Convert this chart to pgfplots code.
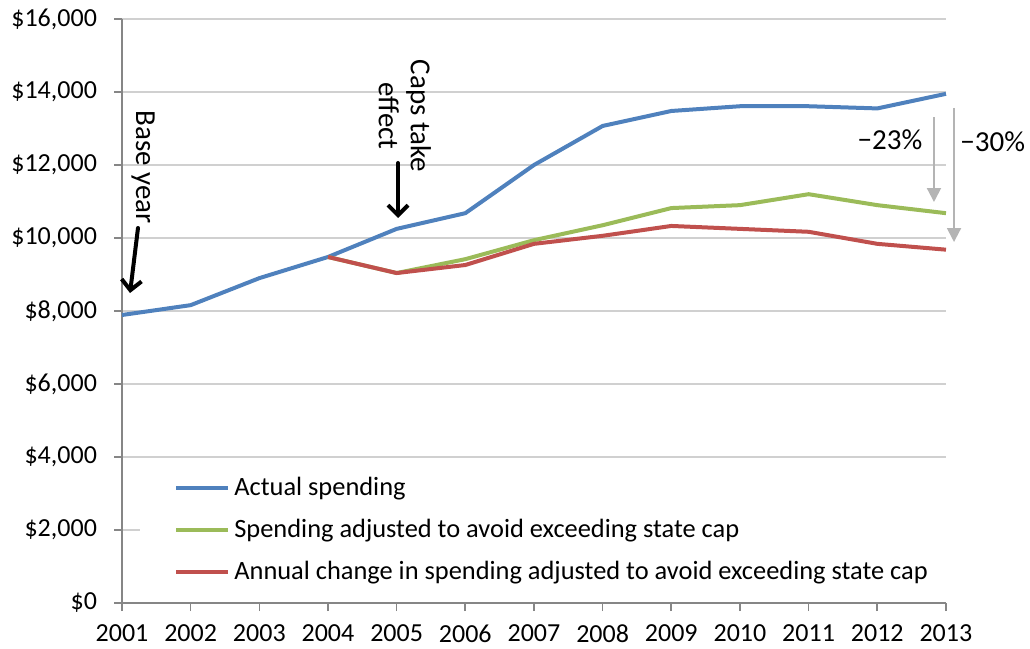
\documentclass[border=0pt]{standalone}
\usepackage{fontspec}
\setmainfont{Carlito}
\usepackage{pgfplots}
\pgfplotsset{compat=1.18}
\usetikzlibrary{arrows.meta}
\definecolor{sblue}{HTML}{4F81BD}
\definecolor{sgreen}{HTML}{9BBB59}
\definecolor{sred}{HTML}{C0504D}
\definecolor{gridgray}{HTML}{D0D0D0}
\definecolor{axgray}{HTML}{868686}
\definecolor{arrgray}{HTML}{B4B4B4}
\begin{document}
\begin{tikzpicture}
\path[use as bounding box] (-61pt,-23pt) rectangle (454pt,301.5pt);
\begin{axis}[
  at={(0,0)}, anchor=south west,
  scale only axis, width=412pt, height=292pt,
  xmin=2001, xmax=2013, ymin=0, ymax=16000,
  scaled x ticks=false, scaled y ticks=false,
  axis x line*=bottom, axis y line*=left,
  axis line style={draw=axgray, line width=0.8pt},
  xtick={2001,...,2013},
  xticklabels={2001,2002,2003,2004,2005,2006,2007,2008,2009,2010,2011,2012,2013},
  ytick={0,2000,...,16000},
  yticklabels={{\$0},{\$2,000},{\$4,000},{\$6,000},{\$8,000},{\$10,000},{\$12,000},{\$14,000},{\$16,000}},
  tick align=outside, major tick length=4pt,
  tick style={draw=axgray, line width=0.8pt},
  ymajorgrids, grid style={draw=gridgray, line width=0.9pt},
  ticklabel style={font=\fontsize{13}{15}\selectfont},
  yticklabel style={xshift=-5pt},
  xticklabel style={yshift=-3.5pt},
  clip=false,
  legend style={draw=none, fill=white, at={(rel axis cs:0.0218,0.236)}, anchor=north west,
    inner xsep=17pt, inner ysep=4pt, row sep=6.3pt,
    font=\fontsize{13.2}{15}\selectfont},
  legend cell align=left,
  legend image code/.code={\draw[#1] (0pt,0pt) -- (26pt,0pt);},
  every axis plot/.append style={line width=2pt, line join=round},
]
\addplot[sblue] coordinates {(2001,7890) (2002,8160) (2003,8900) (2004,9480) (2005,10250) (2006,10680) (2007,12000) (2008,13070) (2009,13480) (2010,13610) (2011,13610) (2012,13550) (2013,13950)};
\addlegendentry{Actual spending}
\addplot[sgreen] coordinates {(2004,9480) (2005,9040) (2006,9420) (2007,9940) (2008,10350) (2009,10820) (2010,10900) (2011,11200) (2012,10900) (2013,10680)};
\addlegendentry{Spending adjusted to avoid exceeding state cap}
\addplot[sred] coordinates {(2004,9480) (2005,9040) (2006,9260) (2007,9840) (2008,10060) (2009,10330) (2010,10250) (2011,10170) (2012,9840) (2013,9680)};
\addlegendentry{Annual change in spending adjusted to avoid exceeding state cap}
% annotations
\draw[black, line width=2pt, line cap=round, -{Straight Barb[length=5pt,width=10pt,line width=2pt]}] (axis cs:2001.233,10274) -- (axis cs:2001.117,8493);
\node[rotate=-90, font=\fontsize{14.5}{17}\selectfont] at (axis cs:2001.306,11945) {Base year};
\draw[black, line width=2pt, line cap=round, -{Straight Barb[length=5pt,width=10pt,line width=2pt]}] (axis cs:2005.02,12055) -- (axis cs:2005.02,10548);
\node[rotate=-90, align=center, font=\fontsize{14.5}{16}\selectfont] at (axis cs:2005.12,13342) {Caps take\\effect};
\draw[arrgray, line width=1pt, -{Triangle[length=7pt,width=7pt]}] (axis cs:2012.825,13315) -- (axis cs:2012.825,10986);
\draw[arrgray, line width=1pt, -{Triangle[length=7pt,width=7pt]}] (axis cs:2013.117,13562) -- (axis cs:2013.117,9890);
\node[font=\fontsize{14.5}{17}\selectfont] at (axis cs:2012.184,12685) {−23\%};
\node[font=\fontsize{14.5}{17}\selectfont] at (axis cs:2013.68,12630) {−30\%};
\end{axis}
\end{tikzpicture}
\end{document}
